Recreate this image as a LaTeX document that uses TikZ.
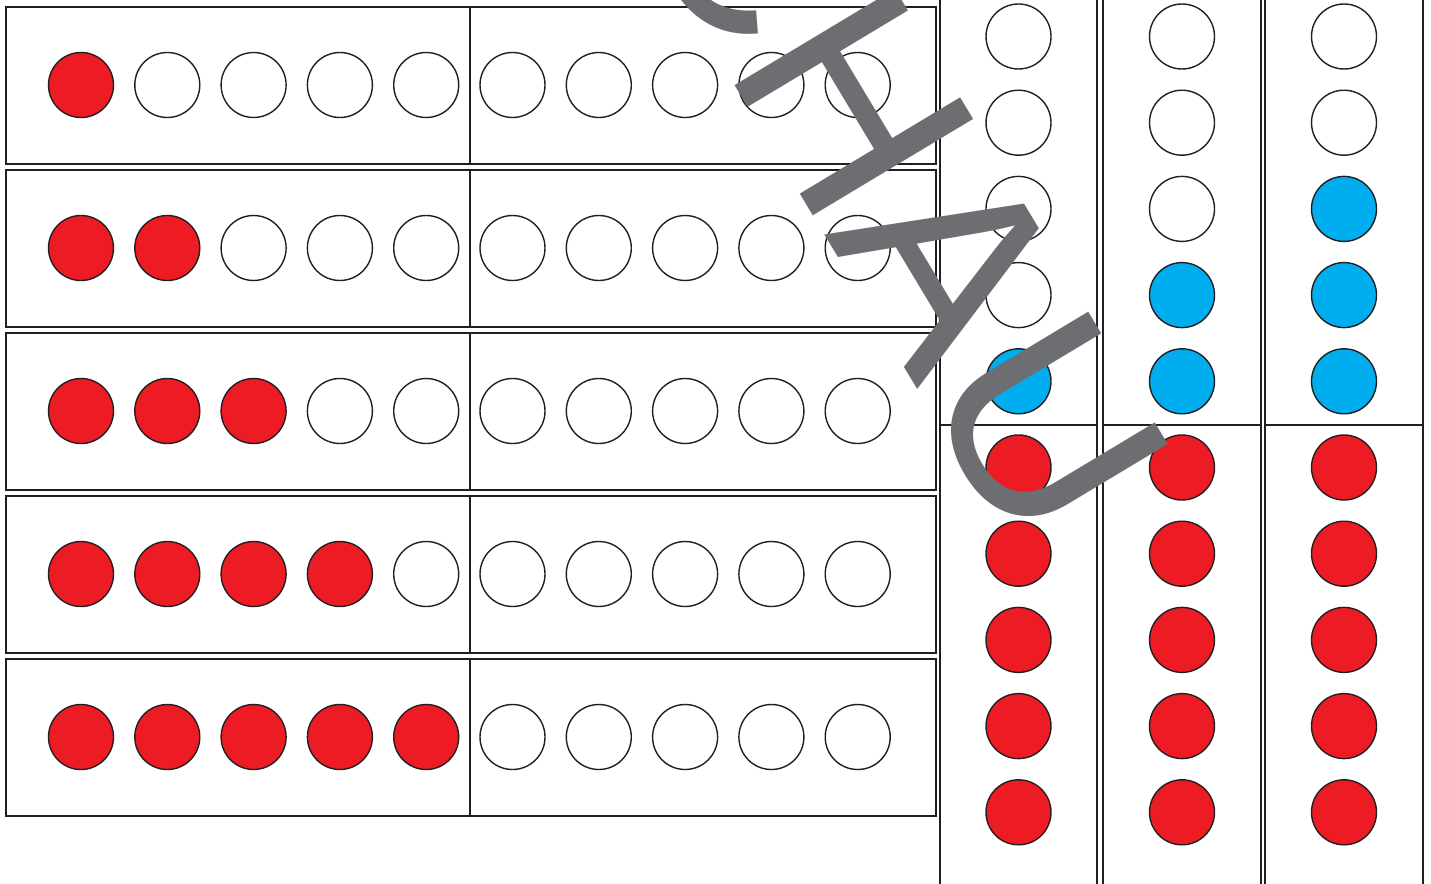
\documentclass[tikz,border=0pt]{standalone}
\usepackage{fontspec}
\setmainfont{Liberation Sans}
\definecolor{dotred}{HTML}{ED1C24}
\definecolor{dotblue}{HTML}{00AEEF}
\definecolor{framecol}{HTML}{231F20}
\definecolor{markgray}{HTML}{6D6E71}
\begin{document}
\begin{tikzpicture}[x=1pt,y=-1pt,
  framebox/.style={draw=framecol, line width=1.4pt},
  dot/.style={circle, draw=framecol, line width=1.4pt, minimum size=65pt, inner sep=0pt},
  watermark/.style={text=markgray, font=\fontsize{272}{272}\selectfont, rotate=-59, anchor=base west, inner sep=0pt}]
\useasboundingbox (0,0) rectangle (1431,883);
\clip (0,0) rectangle (1431,883);
\fill[white] (0,0) rectangle (1431,883);
% horizontal ten-frames
\foreach \r in {1,...,5} {
  \pgfmathsetmacro\rtop{7+163*(\r-1)}
  \draw[framebox] (6,\rtop) rectangle (936,\rtop+157);
  \draw[framebox] (470,\rtop) -- (470,\rtop+157);
  \foreach \c in {1,...,10} {
    \pgfmathsetmacro\cx{81+86.3*(\c-1)}
    \ifnum\c>\r \def\dc{white}\else\def\dc{dotred}\fi
    \node[dot, fill=\dc] (h\r-\c) at (\cx,\rtop+78) {};
  }
}
% vertical ten-frames
\foreach \k/\xl/\xr in {1/940/1097, 2/1103/1261, 3/1265/1423} {
  \draw[framebox] (\xl,-10) -- (\xl,900);
  \draw[framebox] (\xr,-10) -- (\xr,900);
  \draw[framebox] (\xl,425) -- (\xr,425);
  \pgfmathsetmacro\cx{(\xl+\xr)/2}
  \foreach \i in {1,...,10} {
    \pgfmathsetmacro\cy{36.5+86.2*(\i-1)}
    \pgfmathtruncatemacro\lim{5-\k}
    \ifnum\i>5 \def\dc{dotred}\else\ifnum\i>\lim \def\dc{dotblue}\else\def\dc{white}\fi\fi
    \node[dot, fill=\dc] (v\k-\i) at (\cx,\cy) {};
  }
}
% watermark
\node[watermark] (wm) at (622,-102) {CHAU};
\end{tikzpicture}
\end{document}
